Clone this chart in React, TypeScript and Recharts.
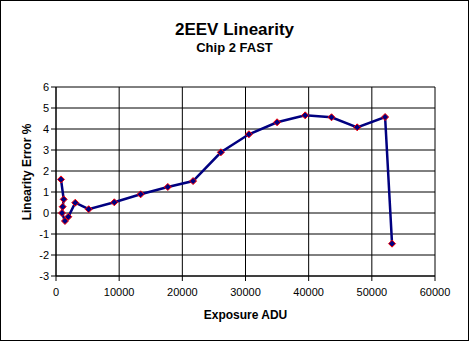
import React from "react";
import {
  LineChart,
  Line,
  XAxis,
  YAxis,
  CartesianGrid,
  Label,
} from "recharts";

const exposure = [
  790, 1220, 1060, 950, 1420, 1950, 3050, 5170, 9230, 13400, 17700, 21700,
  26100, 30540, 35000, 39450, 43620, 47680, 52100, 53200,
];
const linearityError = [
  1.6, 0.65, 0.3, 0.0, -0.38, -0.18, 0.49, 0.18, 0.51, 0.89, 1.24, 1.52, 2.89,
  3.75, 4.32, 4.65, 4.56, 4.08, 4.57, -1.46,
];
const xTicks = [0, 10000, 20000, 30000, 40000, 50000, 60000];
const yTicks = [-3, -2, -1, 0, 1, 2, 3, 4, 5, 6];

const data = exposure.map((x, i) => ({ x, err: linearityError[i] }));

const font = "'Liberation Sans', Arial, sans-serif";

const Diamond = (props: any) => {
  const { cx, cy, index } = props;
  if (cx == null || cy == null) return null;
  const r = 3.5;
  return (
    <polygon
      key={index}
      points={`${cx},${cy - r} ${cx + r},${cy} ${cx},${cy + r} ${cx - r},${cy}`}
      fill="#000080"
      stroke="#ff0000"
      strokeWidth={1}
    />
  );
};

// y axis title sits a bit above the plot centre, like the original
const YTitle = () => (
  <text
    x={27}
    y={172}
    transform="rotate(-90, 27, 172)"
    textAnchor="middle"
    dominantBaseline="central"
    style={{ fontWeight: "bold", fontSize: 12, fill: "#000", fontFamily: font }}
  >
    Linearity Error %
  </text>
);

export default function App() {
  return (
    <div
      style={{
        position: "absolute",
        left: 0,
        top: 0,
        width: 469,
        height: 341,
        border: "1px solid #000",
        boxSizing: "border-box",
        background: "#fff",
        fontFamily: font,
      }}
    >
      <div
        style={{
          position: "absolute",
          top: 19,
          width: "100%",
          textAlign: "center",
          fontWeight: "bold",
          fontSize: 17,
        }}
      >
        2EEV Linearity
      </div>
      <div
        style={{
          position: "absolute",
          top: 39,
          width: "100%",
          textAlign: "center",
          fontWeight: "bold",
          fontSize: 13,
        }}
      >
        Chip 2 FAST
      </div>
      <div style={{ position: "absolute", left: -1, top: -1 }}>
        <LineChart
          width={469}
          height={341}
          data={data}
          margin={{ top: 87, right: 34, left: 0, bottom: 0 }}
        >
          <CartesianGrid stroke="#000" strokeWidth={1} />
          <XAxis
            type="number"
            dataKey="x"
            domain={[0, 60000]}
            ticks={xTicks}
            interval={0}
            height={65}
            stroke="#000"
            tickSize={5}
            tickMargin={7}
            tick={{ fill: "#000", fontSize: 11, fontFamily: font }}
          >
            <Label
              value="Exposure ADU"
              position="center"
              dy={6}
              style={{ fontWeight: "bold", fontSize: 12, fill: "#000", fontFamily: font }}
            />
          </XAxis>
          <YAxis
            type="number"
            domain={[-3, 6]}
            ticks={yTicks}
            interval={0}
            width={56}
            stroke="#000"
            tickSize={5}
            tickMargin={2}
            tick={{ fill: "#000", fontSize: 11, fontFamily: font }}
          >
            <Label content={<YTitle />} />
          </YAxis>
          <Line
            type="linear"
            dataKey="err"
            stroke="#000080"
            strokeWidth={2.5}
            dot={<Diamond />}
            activeDot={false}
            isAnimationActive={false}
          />
        </LineChart>
      </div>
    </div>
  );
}
